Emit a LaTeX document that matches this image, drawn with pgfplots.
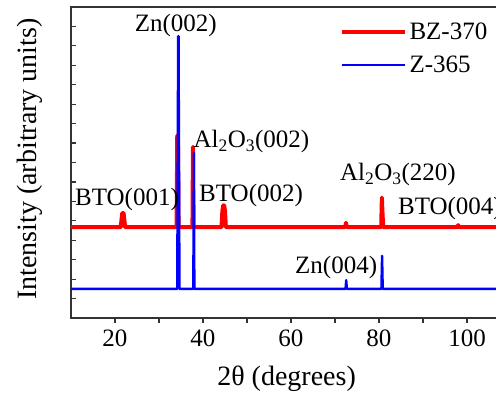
\documentclass[border=0pt]{standalone}
\usepackage{fontspec}
\setmainfont{Liberation Serif}
\usepackage{pgfplots}
\pgfplotsset{compat=1.18}
\begin{document}
\begin{tikzpicture}
\begin{axis}[
  scale only axis, width=440pt, height=311pt,
  xmin=10, xmax=110, ymin=0, ymax=16,
  xtick={20,40,60,80,100}, minor xtick={30,50,70,90},
  ytick={1,...,15}, yticklabels={},
  xtick pos=bottom, ytick pos=left,
  xtick align=outside, ytick align=inside,
  major tick length=5pt, minor tick length=5pt,
  tick style={line width=1.2pt, color=black!80},
  axis line style={line width=1.5pt, black!80},
  /pgf/number format/assume math mode=true,
  tick label style={font=\fontsize{25}{30}\selectfont},
  xticklabel style={anchor=north, yshift=-3pt},
  xlabel={2θ (degrees)},
  ylabel={Intensity (arbitrary units)},
  label style={font=\fontsize{28}{32}\selectfont},
  xlabel style={at={(axis description cs:0.49,0)}, anchor=base, yshift=-67pt},
  ylabel style={at={(axis description cs:0,0.511)}, anchor=base, yshift=34pt},
  legend style={at={(axis description cs:0.611,0.958)}, anchor=north west,
    draw=none, fill=none, inner sep=0pt, row sep=10pt,
    font=\fontsize{25}{30}\selectfont, nodes={inner sep=2.5pt}},
  legend cell align=left,
  legend image code/.code={\draw[#1] (0pt,0pt) -- (63pt,0pt);},
  clip=true,
]
\addplot[red, line width=4pt, line join=round] coordinates {
(10,4.67) (21.3,4.67) (21.5,5.1) (21.65,5.4) (21.95,5.4) (22.1,5.1) (22.3,4.67)
(34.0,4.67) (34.15,9.4) (34.3,9.4) (34.45,4.67)
(37.6,4.67) (37.72,8.8) (37.84,4.67)
(44.2,4.67) (44.4,5.5) (44.6,5.8) (44.8,5.8) (45.0,5.5) (45.2,4.67)
(72.3,4.67) (72.5,4.9) (72.7,4.67)
(80.5,4.67) (80.65,6.2) (80.8,5.4) (80.95,4.67)
(97.8,4.67) (98,4.78) (98.2,4.67) (110,4.67)
};
\addlegendentry{BZ-370}
\addplot[blue, line width=2.4pt, line join=round] coordinates {
(10,1.5) (34.15,1.5) (34.35,14.5) (34.45,14.5) (34.65,1.5)
(37.8,1.5) (37.92,8.5) (38.04,1.5)
(72.4,1.5) (72.55,1.95) (72.7,1.5)
(80.55,1.5) (80.7,3.2) (80.85,1.5) (110,1.5)
};
\addlegendentry{Z-365}
\begin{scope}[font=\fontsize{25}{30}\selectfont]
\node[anchor=base] at (axis cs:33.8,14.75) {Zn(002)};
\node[anchor=base west, inner sep=0pt] at (axis cs:37.8,8.75) {Al\textsubscript{2}O\textsubscript{3}(002)};
\node[anchor=base west, inner sep=0pt] at (axis cs:10.9,5.81) {BTO(001)};
\node[anchor=base west, inner sep=0pt] at (axis cs:39.1,5.97) {BTO(002)};
\node[anchor=base west, inner sep=0pt] at (axis cs:71.1,7.05) {Al\textsubscript{2}O\textsubscript{3}(220)};
\node[anchor=base west, inner sep=0pt] at (axis cs:84.3,5.3) {BTO(004)};
\node[anchor=base west, inner sep=0pt] at (axis cs:60.9,2.31) {Zn(004)};
\end{scope}
\end{axis}
\pgfresetboundingbox
\useasboundingbox (-71pt,-76pt) rectangle (425pt,318pt);
\end{tikzpicture}
\end{document}
